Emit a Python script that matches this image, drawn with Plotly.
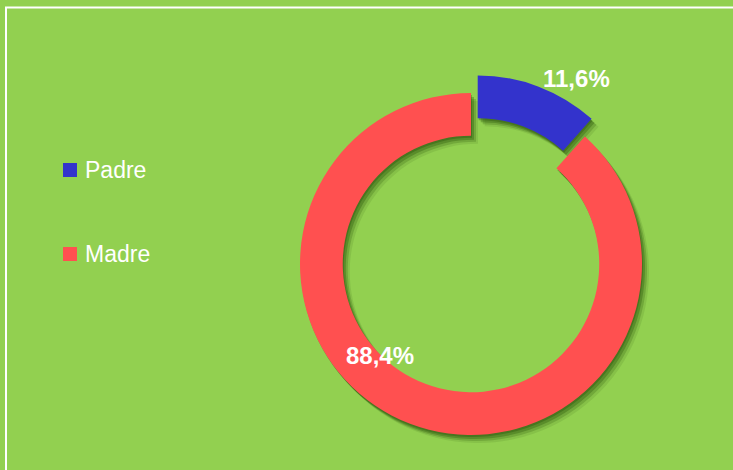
import plotly.graph_objects as go

# ---- data ----
categories = ["Padre", "Madre"]
values = [11.6, 88.4]
colors = ["#3333CC", "#FF5050"]
pulls = [0.11, 0.0]

W, H = 733, 470
BG = "#92D050"

def px_x(x):
    return x / W

def px_y(y):
    return 1 - y / H

# donut geometry (pixels)
CX, CY, R = 471, 264, 171
HOLE = 0.75
half = R * (1 + max(pulls))

def domain(dx=0, dy=0):
    return dict(x=[px_x(CX - half + dx), px_x(CX + half + dx)],
                y=[px_y(CY + half + dy), px_y(CY - half + dy)])

fig = go.Figure()

# soft shadow layers
for (dx, dy, a) in [(7, 8, 0.10), (5, 6, 0.20), (3, 4, 0.28), (1, 2, 0.30)]:
    fig.add_trace(go.Pie(
        labels=categories, values=values, sort=False, direction="clockwise",
        rotation=0, hole=HOLE, pull=pulls, domain=domain(dx, dy),
        marker=dict(colors=[f"rgba(30,70,5,{a})"] * len(values), line=dict(width=0)),
        textinfo="none", hoverinfo="skip", showlegend=False,
    ))

fig.add_trace(go.Pie(
    labels=categories, values=values, sort=False, direction="clockwise",
    rotation=0, hole=HOLE, pull=pulls, domain=domain(),
    marker=dict(colors=colors, line=dict(width=0)),
    textinfo="none", showlegend=False,
))

# percentage labels
label_pos = [(576, 79), (380, 355)]
for v, (lx, ly) in zip(values, label_pos):
    fig.add_annotation(
        x=px_x(lx), y=px_y(ly), xref="paper", yref="paper",
        text=f"{v:.1f}%".replace(".", ","), showarrow=False,
        font=dict(family="Liberation Sans, Arial, sans-serif", size=24, color="white", weight="bold"),
        xanchor="center", yanchor="middle",
    )

# custom legend
legend_y = [170, 254]
for cat, col, ly in zip(categories, colors, legend_y):
    fig.add_shape(type="rect", xref="paper", yref="paper",
                  x0=px_x(63), x1=px_x(77), y0=px_y(ly + 7), y1=px_y(ly - 7),
                  fillcolor=col, line=dict(width=0))
    fig.add_annotation(
        x=px_x(83), y=px_y(ly), xref="paper", yref="paper", text=cat,
        showarrow=False, xanchor="left", yanchor="middle",
        font=dict(family="Liberation Sans, Arial, sans-serif", size=23, color="white"),
    )

# white frame (open to the right and bottom)
fig.add_shape(type="rect", xref="paper", yref="paper",
              x0=px_x(6), x1=1.2, y0=-0.2, y1=px_y(7.5),
              line=dict(color="white", width=2), fillcolor="rgba(0,0,0,0)")

fig.update_layout(
    width=W, height=H, margin=dict(l=0, r=0, t=0, b=0),
    paper_bgcolor=BG, plot_bgcolor=BG, showlegend=False,
)

fig.write_html("out.html", config={"displayModeBar": False},
               post_script="document.body.style.margin='0';document.body.style.background='" + BG + "';")
